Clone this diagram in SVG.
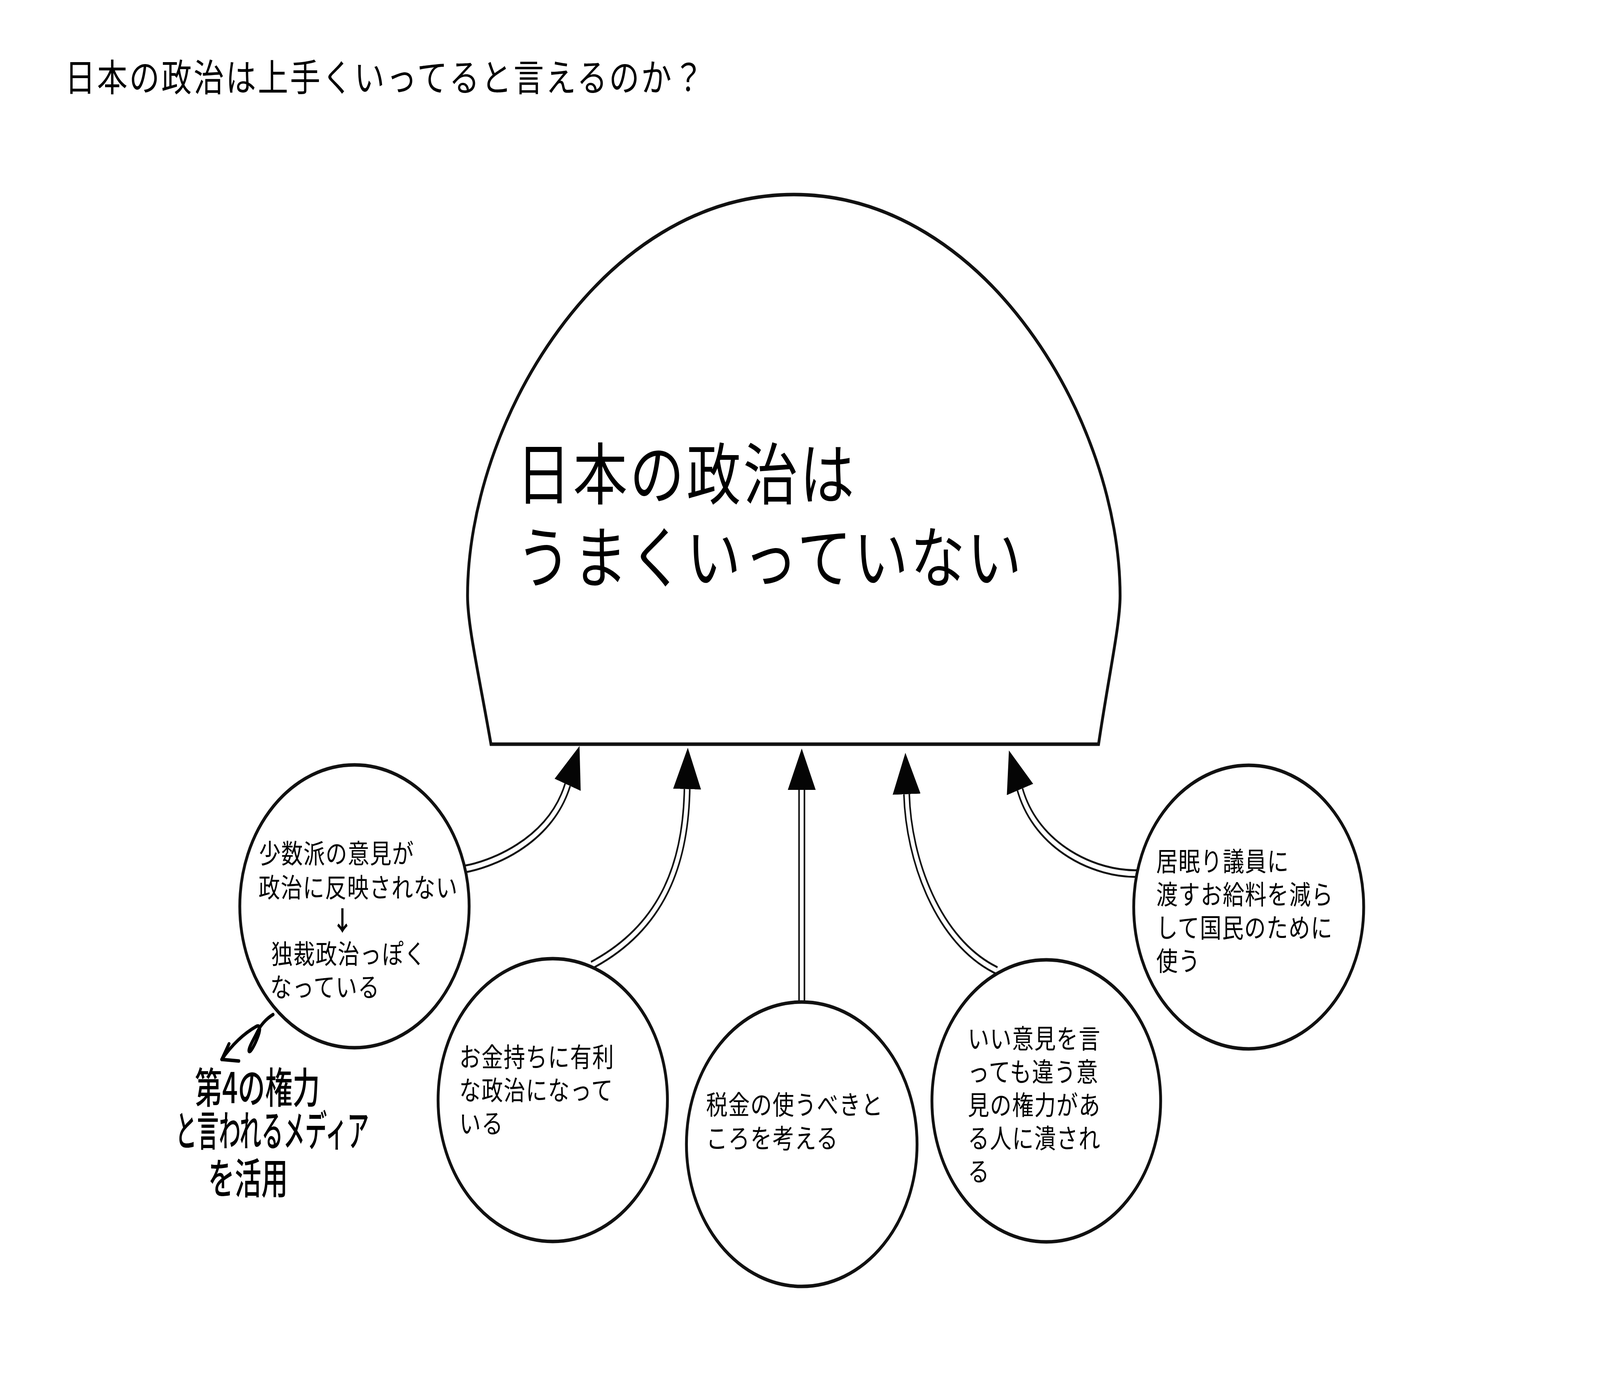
<svg xmlns="http://www.w3.org/2000/svg" width="5051" height="3571" viewBox="0 0 5051 3571" preserveAspectRatio="none">
<style>
  svg { width: 100vw; height: 100vh; display: block; }
  .bg { fill: #ffffff; }
  .shape { fill: #ffffff; stroke: #111111; stroke-width: 9; }
  .t { font-family: "Noto Sans CJK JP", "Noto Sans", sans-serif; fill: #000000; }
  .title { font-size: 96px; letter-spacing: 5.5px; }
  .big { font-size: 172px; letter-spacing: 7px; }
  .small { font-size: 68px; letter-spacing: 2px; }
  .hand { font-size: 108px; font-weight: 500; }
  .outer { fill: none; stroke: #111111; stroke-width: 22; marker-end: url(#arrow); }
  .inner { fill: none; stroke: #ffffff; stroke-width: 12; }
  .pen { fill: none; stroke: #000000; stroke-width: 9; stroke-linecap: round; stroke-linejoin: round; }
</style>
<defs>
  <marker id="arrow" markerUnits="userSpaceOnUse" markerWidth="120" markerHeight="100" viewBox="0 -50 120 100" refX="0" refY="0" orient="auto">
    <path d="M0,-44 L106,0 L0,44 Z" fill="#050505"/>
  </marker>
</defs>
<rect class="bg" x="0" y="0" width="5051" height="3571"/>

<g id="title">
  <text class="t title" x="205" y="233">日本の政治は上手くいってると言えるのか？</text>
</g>

<g id="connectors">
  <path class="outer" d="M1464,2225 C1540,2215 1735,2160 1792,2009"/>
  <path class="inner" d="M1464,2225 C1540,2215 1735,2160 1792,2009"/>
  <path class="outer" d="M1869,2470 C2100,2370 2165,2200 2169,2020"/>
  <path class="inner" d="M1869,2470 C2100,2370 2165,2200 2169,2020"/>
  <path class="outer" d="M2531,2563 L2531,2022"/>
  <path class="inner" d="M2531,2563 L2531,2022"/>
  <path class="outer" d="M3146,2484 C2960,2410 2868,2200 2862,2033"/>
  <path class="inner" d="M3146,2484 C2960,2410 2868,2200 2862,2033"/>
  <path class="outer" d="M3594,2236 C3460,2240 3272,2170 3220,2021"/>
  <path class="inner" d="M3594,2236 C3460,2240 3272,2170 3220,2021"/>
</g>

<g id="main">
  <path class="shape" d="M1550,1905 L3468,1905 C3502,1720 3536,1600 3536,1525 C3536,1080 3112,498 2506,498 C1900,498 1476,1080 1476,1525 C1476,1600 1510,1720 1550,1905 Z"/>
  <text class="t big"><tspan x="1630" y="1277">日本の政治は</tspan><tspan x="1630" y="1490">うまくいっていない</tspan></text>
</g>

<g id="node1">
  <circle class="shape" cx="1119" cy="2320" r="362"/>
  <text class="t small"><tspan x="818" y="2210">少数派の意見が</tspan><tspan x="816" y="2297">政治に反映されない</tspan><tspan x="1047" y="2382" font-weight="700">↓</tspan><tspan x="856" y="2467">独裁政治っぽく</tspan><tspan x="853" y="2552">なっている</tspan></text>
</g>

<g id="node2">
  <circle class="shape" cx="1745" cy="2816" r="362"/>
  <text class="t small"><tspan x="1450" y="2731">お金持ちに有利</tspan><tspan x="1450" y="2816">な政治になって</tspan><tspan x="1450" y="2901">いる</tspan></text>
</g>

<g id="node3">
  <circle class="shape" cx="2531" cy="2929" r="364"/>
  <text class="t small"><tspan x="2229" y="2853">税金の使うべきと</tspan><tspan x="2229" y="2939">ころを考える</tspan></text>
</g>

<g id="node4">
  <circle class="shape" cx="3303" cy="2818" r="361"/>
  <text class="t small"><tspan x="3055" y="2684">いい意見を言</tspan><tspan x="3055" y="2769">っても違う意</tspan><tspan x="3055" y="2854">見の権力があ</tspan><tspan x="3055" y="2939">る人に潰され</tspan><tspan x="3055" y="3024">る</tspan></text>
</g>

<g id="node5">
  <circle class="shape" cx="3942" cy="2322" r="363"/>
  <text class="t small"><tspan x="3650" y="2230">居眠り議員に</tspan><tspan x="3650" y="2315">渡すお給料を減ら</tspan><tspan x="3650" y="2400">して国民のために</tspan><tspan x="3650" y="2485">使う</tspan></text>
</g>

<g id="annotation">
  <path class="pen" d="M862,2597 C840,2608 822,2625 812,2642 C800,2662 783,2684 786,2691 C790,2697 806,2672 815,2652 C824,2632 820,2622 808,2628 C778,2642 738,2668 700,2712"/>
  <path class="pen" d="M723,2672 L700,2712 L754,2716"/>
  <text class="t hand"><tspan x="615" y="2824" textLength="395" lengthAdjust="spacingAndGlyphs">第4の権力</tspan><tspan x="553" y="2934" textLength="612" lengthAdjust="spacingAndGlyphs">と言われるメディア</tspan><tspan x="657" y="3056" textLength="252" lengthAdjust="spacingAndGlyphs">を活用</tspan></text>
</g>
</svg>
